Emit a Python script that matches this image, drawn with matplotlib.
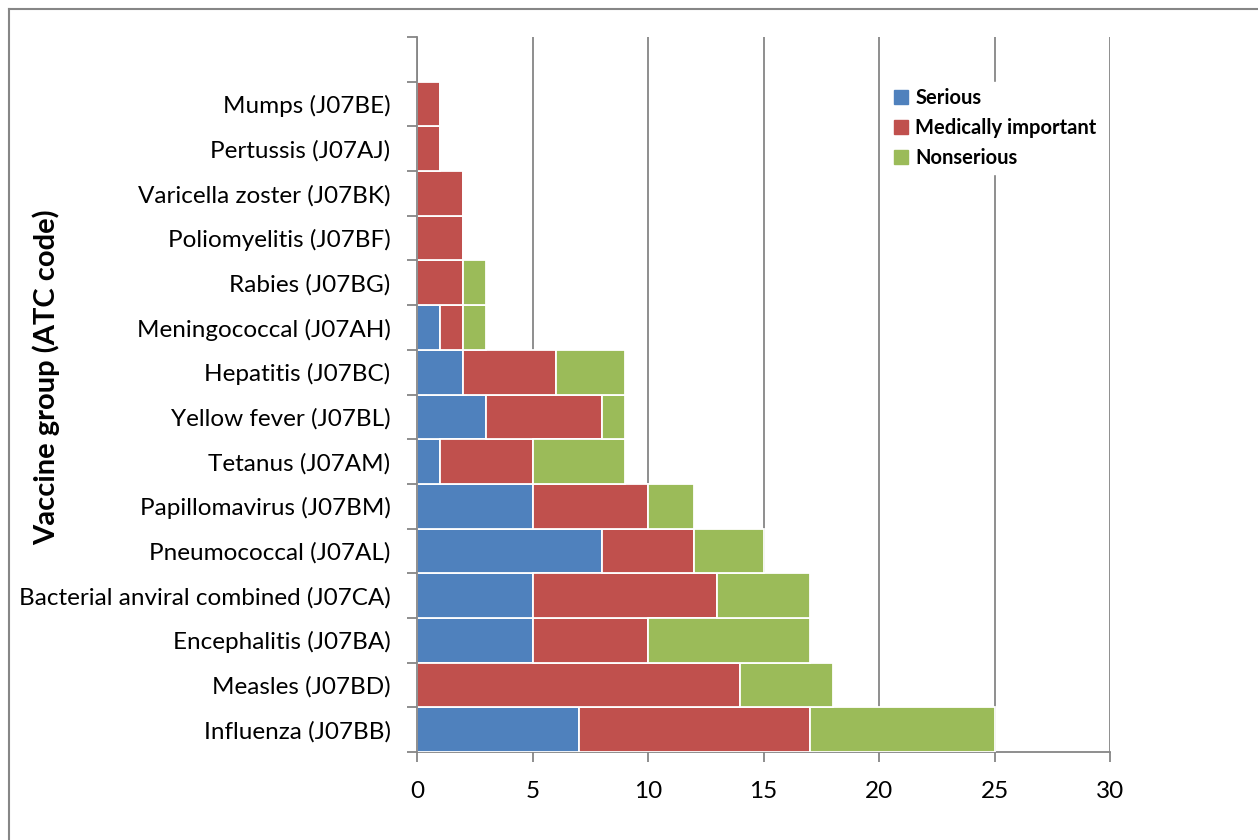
import matplotlib.pyplot as plt
from matplotlib.patches import Patch
import numpy as np

# Data (bottom to top)
groups = ['Influenza (J07BB)', 'Measles (J07BD)', 'Encephalitis (J07BA)',
          'Bacterial anviral combined (J07CA)', 'Pneumococcal (J07AL)',
          'Papillomavirus (J07BM)', 'Tetanus (J07AM)', 'Yellow fever (J07BL)',
          'Hepatitis (J07BC)', 'Meningococcal (J07AH)', 'Rabies (J07BG)',
          'Poliomyelitis (J07BF)', 'Varicella zoster (J07BK)',
          'Pertussis (J07AJ)', 'Mumps (J07BE)']
serious = [7, 0, 5, 5, 8, 5, 1, 3, 2, 1, 0, 0, 0, 0, 0]
medically = [10, 14, 5, 8, 4, 5, 4, 5, 4, 1, 2, 2, 2, 1, 1]
nonserious = [8, 4, 7, 4, 3, 2, 4, 1, 3, 1, 1, 0, 0, 0, 0]

c_ser = '#4F81BD'
c_med = '#C0504D'
c_non = '#9BBB59'
grey = '#868686'

plt.rcParams['font.family'] = ['Lato', 'DejaVu Sans']

fig = plt.figure(figsize=(12.58, 8.4), dpi=100)
ax = fig.add_axes([417 / 1258, 1 - 752 / 840, 693 / 1258, 715 / 840])

y = np.arange(len(groups))
ser = np.array(serious)
med = np.array(medically)
non = np.array(nonserious)

ax.barh(y, ser, height=1.0, color=c_ser, edgecolor='white', linewidth=1.3, zorder=3)
ax.barh(y, med, left=ser, height=1.0, color=c_med, edgecolor='white', linewidth=1.3, zorder=3)
ax.barh(y, non, left=ser + med, height=1.0, color=c_non, edgecolor='white', linewidth=1.3, zorder=3)

ax.set_xlim(0, 30)
ax.set_ylim(-0.5, len(groups) + 0.5)
ax.set_xticks(range(0, 31, 5))
ax.tick_params(axis='x', labelsize=17.5, length=7, width=1.3, color=grey, direction='out', pad=14)

ax.set_yticks(y)
ax.set_yticklabels(groups, fontsize=17.5)
ax.set_yticks(np.arange(-0.5, len(groups) + 1), minor=True)
ax.tick_params(axis='y', which='major', length=0, pad=19)
ax.tick_params(axis='y', which='minor', length=7, width=1.3, color=grey, direction='out')

ax.grid(axis='x', color=grey, linewidth=1.3, zorder=0)
for s in ['top', 'right']:
    ax.spines[s].set_visible(False)
for s in ['left', 'bottom']:
    ax.spines[s].set_color(grey)
    ax.spines[s].set_linewidth(1.3)
ax.spines['left'].set_zorder(4)

ax.set_ylabel('Vaccine group (ATC code)', fontsize=21, fontweight='bold')
ax.yaxis.set_label_coords(-0.515, 0.524)

handles = [Patch(color=c_ser, label='Serious'),
           Patch(color=c_med, label='Medically important'),
           Patch(color=c_non, label='Nonserious')]
leg = ax.legend(handles=handles, loc='upper left', bbox_to_anchor=(0.665, 0.951),
                frameon=True, fancybox=False, edgecolor='white', framealpha=1,
                handlelength=0.7, handleheight=0.7, handletextpad=0.35,
                labelspacing=0.5, borderpad=0.3, prop={'weight': 'bold', 'size': 14.5})
leg.set_zorder(5)

# outer border (left and top)
fig.add_artist(plt.Line2D([8.5 / 1258, 8.5 / 1258], [0, 1 - 8.5 / 840], color=grey, linewidth=1.5))
fig.add_artist(plt.Line2D([8.5 / 1258, 1], [1 - 8.5 / 840, 1 - 8.5 / 840], color=grey, linewidth=1.5))

fig.savefig('out.png', dpi=100)
